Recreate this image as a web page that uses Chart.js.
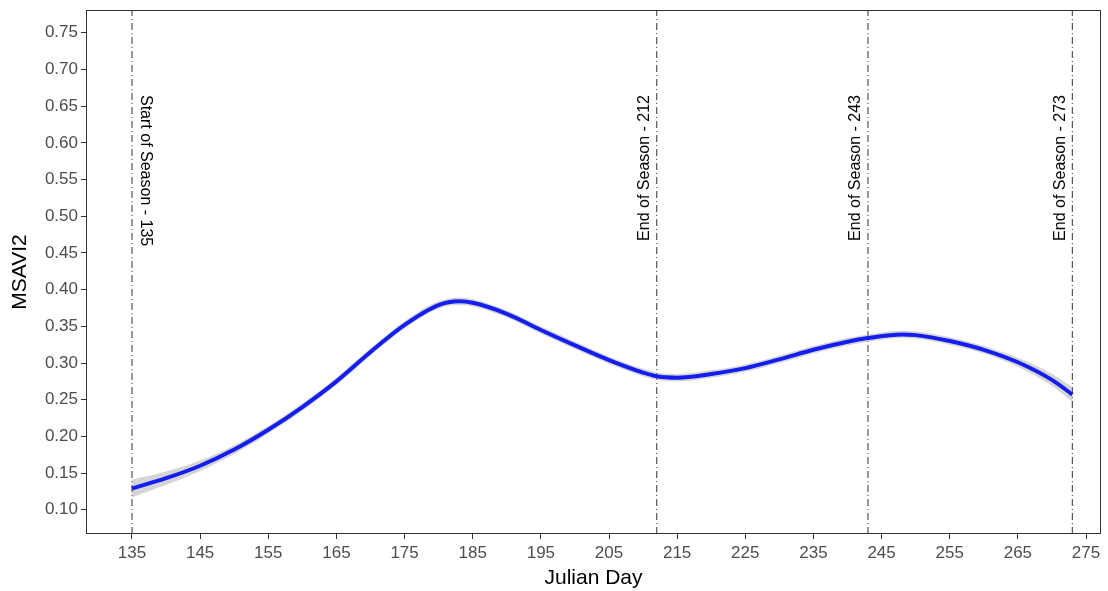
<!DOCTYPE html>
<html>
<head>
<meta charset="utf-8">
<script src="https://cdn.jsdelivr.net/npm/chart.js@4.4.1/dist/chart.umd.min.js"></script>
<style>
  html, body { margin: 0; padding: 0; background: #fff; }
  #wrap { width: 1108px; height: 591px; }
</style>
</head>
<body>
<div id="wrap"><canvas id="grafica"></canvas></div>
<script>
// Curva suavizada de MSAVI2 por día juliano
const dias = [135, 140, 145, 150, 155, 160, 165, 170, 175, 180, 183, 185, 190, 195, 200, 205, 210, 212, 215, 220, 225, 230, 235, 240, 243, 248, 250, 255, 260, 265, 270, 273];
const msavi = [0.129, 0.143, 0.160, 0.182, 0.209, 0.240, 0.275, 0.315, 0.352, 0.379, 0.384, 0.382, 0.367, 0.345, 0.324, 0.304, 0.287, 0.282, 0.280, 0.285, 0.293, 0.305, 0.318, 0.329, 0.334, 0.339, 0.338, 0.330, 0.318, 0.301, 0.277, 0.257];
// Semi-ancho de la banda de confianza (gris)
const banda = [0.012, 0.009, 0.007, 0.006, 0.005, 0.005, 0.005, 0.005, 0.005, 0.005, 0.005, 0.005, 0.005, 0.005, 0.005, 0.005, 0.005, 0.005, 0.005, 0.005, 0.005, 0.005, 0.005, 0.005, 0.005, 0.005, 0.005, 0.005, 0.005, 0.006, 0.008, 0.010];

// Líneas verticales y sus etiquetas
const eventos = [135, 212, 243, 273];
const etiquetasEventos = ['Start of Season - 135', 'End of Season - 212', 'End of Season - 243', 'End of Season - 273'];

const ticksX = [135, 145, 155, 165, 175, 185, 195, 205, 215, 225, 235, 245, 255, 265, 275];
const ticksY = [0.10, 0.15, 0.20, 0.25, 0.30, 0.35, 0.40, 0.45, 0.50, 0.55, 0.60, 0.65, 0.70, 0.75];

const yMin = 0.067, yMax = 0.781;
const xMin = 128.25, xMax = 277.2;

const puntos = dias.map((d, i) => ({ x: d, y: msavi[i] }));
const arriba = dias.map((d, i) => ({ x: d, y: msavi[i] + banda[i] }));
const abajo = dias.map((d, i) => ({ x: d, y: msavi[i] - banda[i] }));

const lineasEventos = eventos.map(d => ({
    type: 'line',
    data: [{ x: d, y: yMin }, { x: d, y: yMax }],
    borderColor: '#555',
    borderWidth: 1.2,
    borderDash: [7, 3, 1, 3],
    pointRadius: 0,
    fill: false,
    order: 5
}));

// Marco y etiquetas rotadas
const marcoPlugin = {
    id: 'marco',
    afterDatasetsDraw(chart) {
        const { ctx, chartArea, scales } = chart;
        ctx.save();
        ctx.strokeStyle = '#333';
        ctx.lineWidth = 1;
        ctx.strokeRect(chartArea.left + 0.5, chartArea.top + 0.5, chartArea.width - 1, chartArea.height - 1);

        ctx.fillStyle = '#000';
        ctx.font = '16px "Liberation Sans", Arial, sans-serif';
        ctx.textBaseline = 'middle';
        eventos.forEach((d, i) => {
            const x = scales.x.getPixelForValue(d);
            ctx.save();
            if (i === 0) {
                ctx.translate(x + 13, 95);
                ctx.rotate(Math.PI / 2);
                ctx.textAlign = 'left';
            } else {
                ctx.translate(x - 12, 95);
                ctx.rotate(-Math.PI / 2);
                ctx.textAlign = 'right';
            }
            ctx.fillText(etiquetasEventos[i], 0, 0);
            ctx.restore();
        });
        ctx.restore();
    }
};

new Chart(document.getElementById('grafica'), {
    type: 'line',
    data: {
        datasets: [
            {
                data: arriba,
                borderWidth: 0,
                pointRadius: 0,
                backgroundColor: 'rgba(150,150,150,0.4)',
                fill: '+1',
                cubicInterpolationMode: 'monotone',
                order: 3
            },
            {
                data: abajo,
                borderWidth: 0,
                pointRadius: 0,
                fill: false,
                cubicInterpolationMode: 'monotone',
                order: 3
            },
            {
                data: puntos,
                borderColor: 'rgb(20,30,240)',
                borderWidth: 4,
                pointRadius: 0,
                fill: false,
                cubicInterpolationMode: 'monotone',
                order: 1
            },
            ...lineasEventos
        ]
    },
    options: {
        responsive: true,
        maintainAspectRatio: false,
        animation: false,
        layout: { padding: { top: 10, right: 7, left: 0, bottom: 0 } },
        plugins: {
            legend: { display: false },
            tooltip: { enabled: false }
        },
        scales: {
            x: {
                type: 'linear',
                min: xMin,
                max: xMax,
                afterBuildTicks: axis => { axis.ticks = ticksX.map(v => ({ value: v })); },
                afterFit: axis => { axis.height = 57; axis.paddingLeft = 0; axis.paddingRight = 0; },
                grid: { drawOnChartArea: false, drawTicks: true, tickLength: 5, color: '#333', tickColor: '#333' },
                border: { display: false },
                ticks: {
                    color: '#4d4d4d',
                    font: { family: '"Liberation Sans", Arial, sans-serif', size: 17 },
                    padding: 4,
                    maxRotation: 0,
                    autoSkip: false
                },
                title: {
                    display: true,
                    text: 'Julian Day',
                    color: '#000',
                    font: { family: '"Liberation Sans", Arial, sans-serif', size: 21 },
                    padding: { top: 0, bottom: 0 }
                }
            },
            y: {
                min: yMin,
                max: yMax,
                afterBuildTicks: axis => { axis.ticks = ticksY.map(v => ({ value: v })); },
                afterFit: axis => { axis.width = 86; axis.paddingTop = 0; axis.paddingBottom = 0; },
                grid: { drawOnChartArea: false, drawTicks: true, tickLength: 5, color: '#333', tickColor: '#333' },
                border: { display: false },
                ticks: {
                    color: '#4d4d4d',
                    font: { family: '"Liberation Sans", Arial, sans-serif', size: 17 },
                    padding: 3,
                    callback: v => v.toFixed(2),
                    autoSkip: false
                },
                title: {
                    display: true,
                    text: 'MSAVI2',
                    color: '#000',
                    font: { family: '"Liberation Sans", Arial, sans-serif', size: 21 },
                    padding: { top: 8, bottom: 4 }
                }
            }
        }
    },
    plugins: [marcoPlugin]
});
</script>
</body>
</html>
